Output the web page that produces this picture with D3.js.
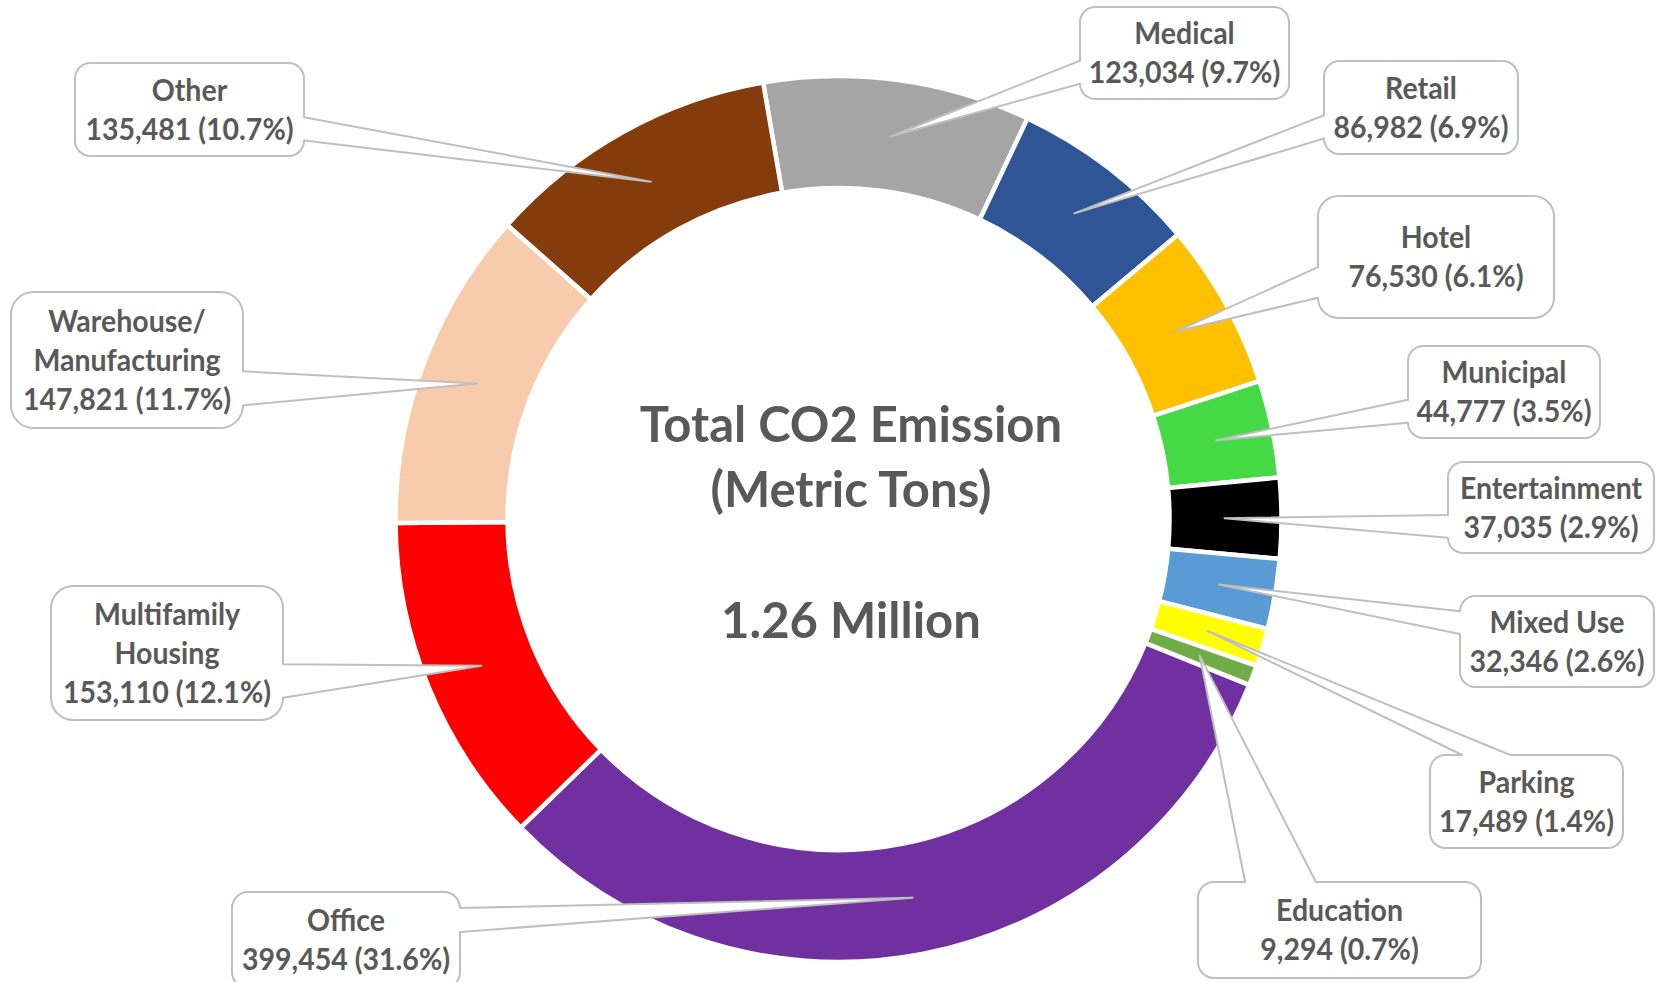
<!DOCTYPE html>
<html>
<head>
<meta charset="utf-8">
<script src="https://cdn.jsdelivr.net/npm/d3@7"></script>
<style>
  html, body { margin: 0; padding: 0; background: #ffffff; }
  svg { display: block; }
  text { font-family: Lato, "Open Sans", sans-serif; font-weight: 700; fill: #595959; }
</style>
</head>
<body>
<svg id="chart" width="1665" height="982"></svg>
<script>
// ---- data ----
const categories = ["Medical", "Retail", "Hotel", "Municipal", "Entertainment", "Mixed Use",
  "Parking", "Education", "Office", "Multifamily Housing", "Warehouse/Manufacturing", "Other"];
const emissions = [123034, 86982, 76530, 44777, 37035, 32346, 17489, 9294, 399454, 153110, 147821, 135481];
const labelLines = [["Medical"], ["Retail"], ["Hotel"], ["Municipal"], ["Entertainment"], ["Mixed Use"],
  ["Parking"], ["Education"], ["Office"], ["Multifamily", "Housing"], ["Warehouse/", "Manufacturing"], ["Other"]];
const colors = ["#a5a5a5", "#2f5597", "#ffc000", "#46d946", "#000000", "#5b9bd5",
  "#ffff00", "#70ad47", "#7030a0", "#ff0000", "#f8cbad", "#843c0c"];
const centerTitle = ["Total CO2 Emission", "(Metric Tons)"];

// ---- layout (callout boxes: x0, y0, x1, y1) ----
const boxes = [
  [1080, 7, 1289, 99],     // Medical
  [1324, 61, 1518, 154],   // Retail
  [1318, 196, 1554, 318],  // Hotel
  [1408, 346, 1600, 438],  // Municipal
  [1448, 462, 1654, 553],  // Entertainment
  [1460, 596, 1654, 687],  // Mixed Use
  [1430, 755, 1623, 848],  // Parking
  [1198, 882, 1481, 978],  // Education
  [232, 892, 460, 988],    // Office
  [51, 586, 283, 720],     // Multifamily
  [11, 292, 243, 428],     // Warehouse
  [75, 63, 304, 156]       // Other
];

const svg = d3.select("#chart");
const cx = 838.5, cy = 519;
const outerR = 443, innerR = 331;
const startA = -9.8 * Math.PI / 180;

const total = d3.sum(emissions);
const data = categories.map((c, i) => ({ name: c, value: emissions[i], lines: labelLines[i], color: colors[i], box: boxes[i] }));

const pie = d3.pie().value(d => d.value).sort(null)
  .startAngle(startA).endAngle(startA + 2 * Math.PI);
const arcs = pie(data);
const arcGen = d3.arc().innerRadius(innerR).outerRadius(outerR);
const midArc = d3.arc().innerRadius((innerR + outerR) / 2 - 1).outerRadius((innerR + outerR) / 2 - 1);

const g = svg.append("g").attr("transform", `translate(${cx},${cy})`);
g.selectAll("path.slice").data(arcs).enter().append("path")
  .attr("class", "slice")
  .attr("d", arcGen)
  .attr("fill", d => d.data.color)
  .attr("stroke", "#ffffff")
  .attr("stroke-width", 4.5)
  .attr("stroke-linejoin", "miter");

// center text
const tx = 851;
svg.append("text").attr("x", tx).attr("y", 442).attr("text-anchor", "middle")
  .attr("font-size", 49).text(centerTitle[0]);
svg.append("text").attr("x", tx).attr("y", 507).attr("text-anchor", "middle")
  .attr("font-size", 49).text(centerTitle[1]);
svg.append("text").attr("x", tx).attr("y", 638).attr("text-anchor", "middle")
  .attr("font-size", 49).text((total / 1e6).toFixed(2) + " Million");

// callouts (wedge round-rect callout geometry)
const fmt = d3.format(",");
function calloutPath(b, tip) {
  const [x0, y0, xr, yb] = b;
  const w = xr - x0, h = yb - y0;
  const r = Math.min(w, h) * 0.16667;
  const hc = x0 + w / 2, vc = y0 + h / 2;
  const dx = tip[0] - hc, dy = tip[1] - vc;
  const dq = dx * h / w;
  const dz = Math.abs(dy) - Math.abs(dq);
  const xa = x0 + w * (dx > 0 ? 7 : 2) / 12, xb = x0 + w * (dx > 0 ? 10 : 5) / 12;
  const ya = y0 + h * (dy > 0 ? 7 : 2) / 12, yb2 = y0 + h * (dy > 0 ? 10 : 5) / 12;
  let side;
  if (dz > 0) side = dy < 0 ? "top" : "bottom";
  else side = dx < 0 ? "left" : "right";
  const T = `${tip[0]},${tip[1]}`;
  let p = `M${x0 + r},${y0}`;
  if (side === "top") p += ` L${xa},${y0} L${T} L${xb},${y0}`;
  p += ` L${xr - r},${y0} A${r},${r} 0 0 1 ${xr},${y0 + r}`;
  if (side === "right") p += ` L${xr},${ya} L${T} L${xr},${yb2}`;
  p += ` L${xr},${yb - r} A${r},${r} 0 0 1 ${xr - r},${yb}`;
  if (side === "bottom") p += ` L${xb},${yb} L${T} L${xa},${yb}`;
  p += ` L${x0 + r},${yb} A${r},${r} 0 0 1 ${x0},${yb - r}`;
  if (side === "left") p += ` L${x0},${yb2} L${T} L${x0},${ya}`;
  p += ` L${x0},${y0 + r} A${r},${r} 0 0 1 ${x0 + r},${y0} Z`;
  return p;
}

const callouts = svg.append("g");
arcs.forEach(a => {
  const c = midArc.centroid(a);
  const tip = [cx + c[0], cy + c[1]];
  const b = a.data.box;
  callouts.append("path")
    .attr("d", calloutPath(b, tip))
    .attr("fill", "#ffffff")
    .attr("stroke", "#bfbfbf")
    .attr("stroke-width", 2)
    .attr("stroke-linejoin", "round");
  const lines = a.data.lines.concat([fmt(a.data.value) + " (" + (a.data.value / total * 100).toFixed(1) + "%)"]);
  const bx = (b[0] + b[2]) / 2, by = (b[1] + b[3]) / 2;
  const L = 39;
  const first = by - (lines.length - 1) * L / 2 + 11;
  const t = callouts.append("text").attr("text-anchor", "middle").attr("font-size", 31)
    .attr("transform", `translate(${bx},0) scale(0.92,1)`);
  lines.forEach((ln, i) => {
    t.append("tspan").attr("x", 0).attr("y", first + i * L).text(ln);
  });
});
</script>
</body>
</html>
